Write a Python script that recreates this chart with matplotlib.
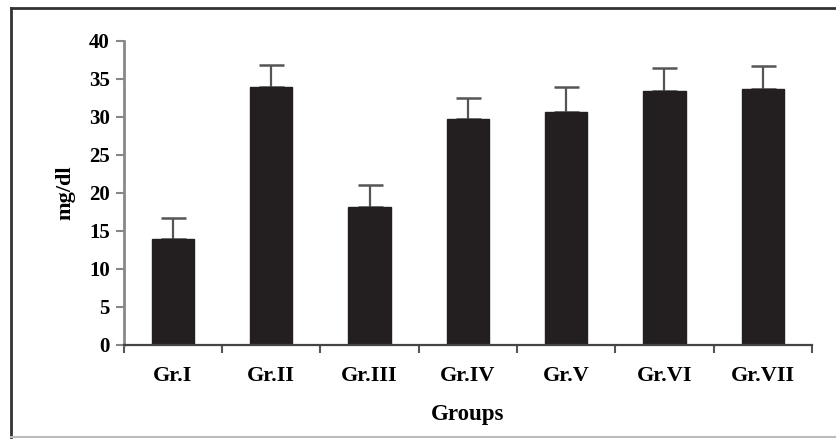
import matplotlib
matplotlib.use("Agg")
import matplotlib.pyplot as plt
from matplotlib.lines import Line2D
import numpy as np

groups = ["Gr.I", "Gr.II", "Gr.III", "Gr.IV", "Gr.V", "Gr.VI", "Gr.VII"]
means = [14.0, 34.0, 18.1, 29.7, 30.6, 33.4, 33.7]
sd = [2.7, 2.8, 3.0, 2.8, 3.3, 3.0, 3.0]
y_ticks = [0, 5, 10, 15, 20, 25, 30, 35, 40]

plt.rcParams["font.family"] = ["Liberation Serif", "DejaVu Serif"]
plt.rcParams["font.weight"] = "bold"

fig = plt.figure(figsize=(8.37, 4.40), dpi=100)
ax = fig.add_axes([0.148, 0.216, 0.822, 0.691])

# outer frame: dark left/top edges, faint bottom edge, open on the right
fig.add_artist(Line2D([0.013, 0.013], [0.007, 0.982], transform=fig.transFigure,
                      color="#333333", linewidth=2.0))
fig.add_artist(Line2D([0.013, 1.0], [0.982, 0.982], transform=fig.transFigure,
                      color="#333333", linewidth=2.0))
fig.add_artist(Line2D([0.013, 1.0], [0.007, 0.007], transform=fig.transFigure,
                      color="#bbbbbb", linewidth=1.5))

x = np.arange(len(groups))
ax.bar(x, means, width=0.43, color="#231f20", edgecolor="#231f20", zorder=2)
ax.errorbar(x, means, yerr=[np.zeros(len(sd)), sd], fmt="none",
            ecolor="#555555", elinewidth=1.6, capsize=9, capthick=1.8, zorder=1)

ax.set_xlim(-0.5, len(groups) - 0.5)
ax.set_ylim(0, 40)
ax.set_yticks(y_ticks)
ax.set_xticks(np.arange(len(groups) + 1) - 0.5)
ax.set_xticklabels([])
ax.set_xticks(x, minor=True)
ax.set_xticklabels(groups, minor=True)
ax.tick_params(axis="x", which="minor", length=0, pad=15, labelsize=16)
ax.tick_params(axis="x", which="major", length=6, width=1.5, color="#555555")
ax.tick_params(axis="y", length=6, width=1.5, color="#888888", labelsize=15, pad=4)

for side in ("top", "right"):
    ax.spines[side].set_visible(False)
ax.spines["left"].set_color("#888888")
ax.spines["left"].set_linewidth(2.0)
ax.spines["bottom"].set_color("#444444")
ax.spines["bottom"].set_linewidth(1.6)

ax.set_xlabel("Groups", fontsize=16.5, fontweight="bold", labelpad=13)
ax.set_ylabel("mg/dl", fontsize=16, fontweight="bold", labelpad=10)

fig.savefig("out.png", dpi=100)
